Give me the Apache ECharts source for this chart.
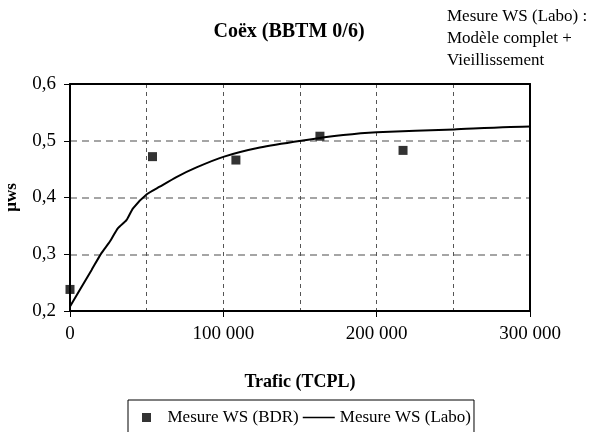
<!DOCTYPE html>
<html>
<head>
<meta charset="utf-8">
<script src="https://cdn.jsdelivr.net/npm/echarts@6/dist/echarts.min.js"></script>
<style>
  html, body { margin: 0; padding: 0; background: #fff; }
  #chart { width: 589px; height: 432px; }
</style>
</head>
<body>
<div id="chart"></div>
<script>
// mesures ponctuelles (BDR)
var bdrTrafic = [0, 53800, 108200, 163000, 217200];
var bdrMu = [0.238, 0.472, 0.466, 0.508, 0.483];

// courbe labo : modele complet + vieillissement
var laboTrafic = [0, 14000, 20500, 25900, 31300, 36800, 41100, 50300, 58500, 69400, 82500,
    100500, 123800, 150800, 178200, 200000, 250500, 300000, 304000];
var laboMu = [0.208, 0.272, 0.302, 0.322, 0.346, 0.360, 0.381, 0.406, 0.419, 0.436, 0.453,
    0.472, 0.488, 0.500, 0.510, 0.515, 0.520, 0.525, 0.525];

var titleText = 'Coëx (BBTM 0/6)';
var noteLines = ['Mesure WS (Labo) :', 'Modèle complet +', 'Vieillissement'];
var seriesNames = ['Mesure WS (BDR)', 'Mesure WS (Labo)'];

var serif = '"Liberation Serif", "Times New Roman", serif';

function pairs(xs, ys) {
    var out = [];
    for (var i = 0; i < xs.length; i++) out.push([xs[i], ys[i]]);
    return out;
}

// axe "cadre" : seulement la ligne, pour fermer le graphe en haut / a droite
function frameAxis(pos, isX) {
    var ax = {
        type: 'value',
        position: pos,
        axisLine: { show: true, onZero: false, lineStyle: { color: '#000', width: 2 } },
        axisTick: { show: false },
        axisLabel: { show: false },
        splitLine: { show: false },
        z: 1
    };
    if (isX) { ax.min = 0; ax.max = 300000; } else { ax.min = 0.2; ax.max = 0.6; }
    return ax;
}

var myChart = echarts.init(document.getElementById('chart'));

var xMain = {
    type: 'value',
    min: 0, max: 300000, interval: 100000,
    name: 'Trafic (TCPL)',
    nameLocation: 'middle',
    nameGap: 62,
    nameTextStyle: { fontFamily: serif, fontWeight: 'bold', fontSize: 18, color: '#000' },
    axisLine: { onZero: false, lineStyle: { color: '#000', width: 2 } },
    axisTick: { show: true, inside: false, length: 6, lineStyle: { color: '#000', width: 1 } },
    axisLabel: {
        margin: 14,
        fontFamily: serif, fontSize: 19, color: '#000',
        formatter: function (v) { return v === 0 ? '0' : (v / 1000) + ' 000'; }
    },
    splitLine: { show: true, lineStyle: { color: '#555', type: [4, 4], width: 1 } },
    minorTick: { show: false, splitNumber: 2 },
    minorSplitLine: { show: true, lineStyle: { color: '#555', type: [4, 4], width: 1 } },
    z: 1
};

var yMain = {
    type: 'value',
    min: 0.2, max: 0.6, interval: 0.1,
    name: 'µws',
    nameLocation: 'middle',
    nameGap: 50,
    nameTextStyle: { fontFamily: serif, fontWeight: 'bold', fontSize: 17, color: '#000' },
    axisLine: { show: true, onZero: false, lineStyle: { color: '#000', width: 2 } },
    axisTick: { show: true, inside: false, length: 6, lineStyle: { color: '#000', width: 1 } },
    axisLabel: {
        margin: 14,
        fontFamily: serif, fontSize: 19, color: '#000',
        formatter: function (v) { return v.toFixed(1).replace('.', ','); }
    },
    splitLine: { show: true, lineStyle: { color: '#888', type: [7, 5], width: 1.5 } },
    z: 1
};

var option = {
    backgroundColor: '#fff',
    animation: false,
    title: {
        text: titleText,
        left: 284,
        top: 17,
        textAlign: 'center',
        textStyle: { fontFamily: serif, fontWeight: 'bold', fontSize: 20, color: '#000' }
    },
    graphic: noteLines.map(function (t, i) {
        return {
            type: 'text',
            left: 447,
            top: 8 + i * 22,
            style: { text: t, font: '17px ' + serif, fill: '#000' }
        };
    }),
    legend: {
        left: 128,
        top: 400,
        itemGap: 4,
        itemWidth: 32,
        itemHeight: 9,
        padding: [9, 3, 30, 14],
        borderColor: '#000',
        borderWidth: 1,
        backgroundColor: '#fff',
        textStyle: { fontFamily: serif, fontSize: 17, color: '#000' },
        data: [
            { name: seriesNames[0], icon: 'path://M0,0H10V10H0Z' },
            { name: seriesNames[1], icon: 'path://M0,0H40V2H0Z' }
        ]
    },
    grid: {
        left: 70, right: 59, top: 84, bottom: 121,
        outerBoundsMode: 'none',
        containLabel: false
    },
    xAxis: [xMain, frameAxis('top', true)],
    yAxis: [yMain, frameAxis('right', false)],
    series: [
        {
            name: seriesNames[1],
            type: 'line',
            data: pairs(laboTrafic, laboMu),
            symbol: 'none',
            smooth: 0.2,
            clip: false,
            lineStyle: { color: '#000', width: 2 },
            itemStyle: { color: '#000' },
            z: 2
        },
        {
            name: seriesNames[0],
            type: 'scatter',
            data: pairs(bdrTrafic, bdrMu),
            symbol: 'rect',
            symbolSize: 9,
            clip: false,
            itemStyle: { color: '#000' },
            z: 3
        }
    ]
};

myChart.setOption(option);
</script>
</body>
</html>
